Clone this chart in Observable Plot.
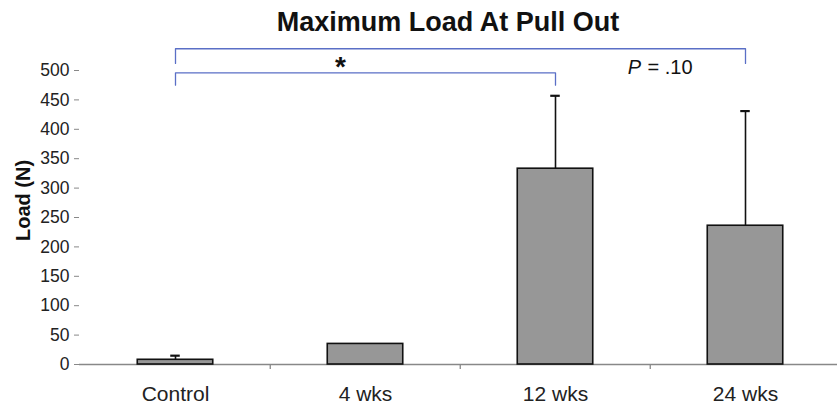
<!DOCTYPE html>
<html>
<head>
<meta charset="utf-8">
<script src="https://cdn.jsdelivr.net/npm/d3@7"></script>
<script src="https://cdn.jsdelivr.net/npm/@observablehq/plot@0.6"></script>
<style>
  body { margin: 0; background: #fff; font-family: "Liberation Sans", Arial, sans-serif; }
  #wrap { position: relative; width: 837px; height: 413px; }
  #title { position: absolute; left: 448px; top: 9px; transform: translateX(-50%); white-space: nowrap;
           font: bold 27px/1 "Liberation Sans", Arial, sans-serif; color: #111; z-index: 2; }
</style>
</head>
<body>
<div id="wrap">
  <div id="title">Maximum Load At Pull Out</div>
  <div id="chart"></div>
</div>
<script>
const categories = ["Control", "4 wks", "12 wks", "24 wks"];
const means = [8, 35, 333, 236];
const sds = [7, 0, 124, 195];
const yTicks = [0, 50, 100, 150, 200, 250, 300, 350, 400, 450, 500];
const brackets = [
  {from: "Control", to: "24 wks", top: 537, bottom: 512},
  {from: "Control", to: "12 wks", top: 496, bottom: 475}
];
const starLabel = {text: "*", x: "4 wks", y: 514};
const pLabel = {text: "P = .10", x: "24 wks", y: 505};

const data = categories.map((c, i) => ({cat: c, mean: means[i], sd: sds[i]}));
const errs = data.filter(d => d.sd > 0);
const bracketPts = brackets.map(b => [
  {x: b.from, y: b.bottom}, {x: b.from, y: b.top}, {x: b.to, y: b.top}, {x: b.to, y: b.bottom}
]);

const W = 837, H = 413, ML = 79, XR = 841;
const step = (XR - ML) / categories.length;
const blue = "#5a6fc6";
const font = "Liberation Sans, Arial, sans-serif";

const chart = Plot.plot({
  width: W, height: H,
  marginLeft: ML, marginRight: 0, marginTop: 70, marginBottom: 49,
  style: {fontFamily: font, fontSize: "17px", color: "#222", background: "white", overflow: "visible"},
  x: {domain: categories, range: [ML, XR], padding: 0, label: null},
  y: {domain: [0, 500], label: null},
  marks: [
    Plot.axisY({ticks: yTicks, tickSize: 5, tickPadding: 5, stroke: "#888", fill: "#222", fontSize: 17.5, label: null}),
    Plot.axisX({tickSize: 0, tickPadding: 22, fill: "#222", fontSize: 21, label: null}),
    Plot.ruleX([0], {x: () => ML, frameAnchor: "left", stroke: "#888", strokeWidth: 1.3}),
    Plot.ruleY([0], {stroke: "#888", strokeWidth: 1.3}),
    Plot.ruleX(categories.slice(1), {x: d => d, y1: 0, y2: -8.5, dx: -step / 2, stroke: "#888", strokeWidth: 1.3}),
    Plot.ruleX(errs, {x: "cat", y1: "mean", y2: d => d.mean + d.sd, stroke: "#111", strokeWidth: 1.6}),
    Plot.tickY(errs, {x: "cat", y: d => d.mean + d.sd, stroke: "#111", strokeWidth: 2.2, insetLeft: step / 2 - 5, insetRight: step / 2 - 5}),
    Plot.barY(data, {x: "cat", y: "mean", fill: "#979797", stroke: "#111", strokeWidth: 1.6, insetLeft: step / 2 - 38, insetRight: step / 2 - 38}),
    ...bracketPts.map(pts => Plot.line(pts, {x: "x", y: "y", stroke: blue, strokeWidth: 1.3})),
    Plot.text([starLabel], {x: "x", y: "y", text: "text", dx: -25, dy: 5, fontSize: 28, fontWeight: "bold", fill: "#111"}),
    Plot.text([pLabel], {x: "x", y: "y", text: d => "= .10", dx: -98, fontSize: 20, fill: "#111", textAnchor: "start"}),
    Plot.text([pLabel], {x: "x", y: "y", text: d => "P", dx: -111, fontSize: 20, fontStyle: "italic", fill: "#111", textAnchor: "middle"}),
    Plot.text(["Load (N)"], {frameAnchor: "left", text: d => d, rotate: -90, textAnchor: "middle", dx: -56, dy: -17, fontSize: 20, fontWeight: "bold", fill: "#111"})
  ]
});
document.getElementById("chart").appendChild(chart);
</script>
</body>
</html>
